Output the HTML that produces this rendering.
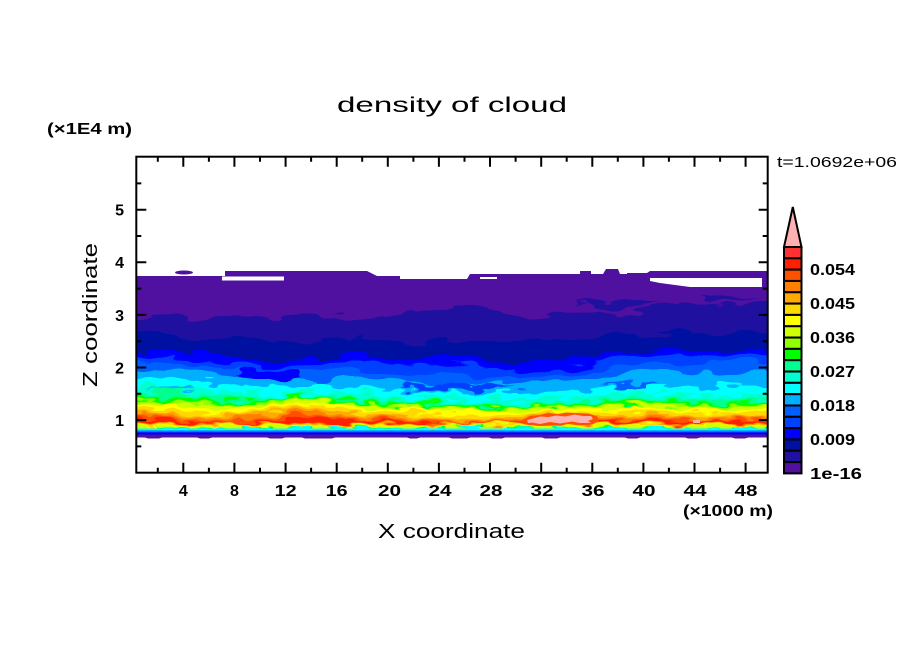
<!DOCTYPE html>
<html><head><meta charset="utf-8"><style>
html,body{margin:0;padding:0;background:#fff;}
svg{display:block;}
text{font-family:"Liberation Sans",sans-serif;fill:#000;}
.b{font-weight:bold;font-size:15.5px;}
.t{font-weight:bold;font-size:16px;}
</style></head><body>
<svg width="904" height="654" viewBox="0 0 904 654" xmlns="http://www.w3.org/2000/svg">
<defs>
<clipPath id="pc"><rect x="137" y="157.7" width="630" height="314"/></clipPath>
<clipPath id="ic"><rect x="120" y="250" width="670" height="184.5"/></clipPath>
<filter id="f1" filterUnits="userSpaceOnUse" x="110" y="240" width="690" height="230" color-interpolation-filters="sRGB">
<feTurbulence type="fractalNoise" baseFrequency="0.03 0.09" numOctaves="2" seed="3" result="n"/>
<feColorMatrix in="n" type="matrix" values="0 0 0 0 0.5  0 1 0 0 0  0 0 0 0 0  0 0 0 0 1" result="m"/>
<feDisplacementMap in="SourceGraphic" in2="m" scale="20" xChannelSelector="R" yChannelSelector="G"/>
</filter>
<filter id="f2" filterUnits="userSpaceOnUse" x="110" y="240" width="690" height="230" color-interpolation-filters="sRGB">
<feTurbulence type="fractalNoise" baseFrequency="0.045 0.14" numOctaves="2" seed="11" result="n"/>
<feColorMatrix in="n" type="matrix" values="0 0 0 0 0.5  0 1 0 0 0  0 0 0 0 0  0 0 0 0 1" result="m"/>
<feDisplacementMap in="SourceGraphic" in2="m" scale="21" xChannelSelector="R" yChannelSelector="G"/>
</filter>
<filter id="f3" filterUnits="userSpaceOnUse" x="110" y="240" width="690" height="230" color-interpolation-filters="sRGB">
<feTurbulence type="fractalNoise" baseFrequency="0.045 0.15" numOctaves="2" seed="27" result="n"/>
<feColorMatrix in="n" type="matrix" values="0 0 0 0 0.5  0 1 0 0 0  0 0 0 0 0  0 0 0 0 1" result="m"/>
<feDisplacementMap in="SourceGraphic" in2="m" scale="13" xChannelSelector="R" yChannelSelector="G"/>
</filter>
</defs>

<text x="337" y="112" font-size="21" textLength="230" lengthAdjust="spacingAndGlyphs">density of cloud</text>
<text x="47" y="134" class="b" font-size="15" textLength="85" lengthAdjust="spacingAndGlyphs">(×1E4 m)</text>
<text x="777" y="167" font-size="14.5" textLength="120" lengthAdjust="spacingAndGlyphs">t=1.0692e+06</text>

<g clip-path="url(#pc)">
<path fill="#5010a0" d="M130,276 H225 V271 H367 L377,276 H400 V279 H467 L470,274 H580 V271 H591 V274 H603 L606,269 H618 L620,274 H627 V273 H647 L650,271 H775 V437.5 H748 L745,438.5 H735 L732,437.5 H700 L697,438.5 H688 L685,437.5 H640 L637,438.5 H628 L625,437.5 H560 L557,438.5 H545 L542,437.5 H505 L502,438.5 H492 L489,437.5 H470 L467,438.5 H452 L449,437.5 H420 L417,438.5 H410 L407,437.5 H335 L332,438.5 H305 L302,437.5 H285 L282,438.5 H270 L267,437.5 H212 L209,438.5 H200 L197,437.5 H162 L159,438.5 H148 L145,437.5 H130 Z"/>
<rect x="222" y="276.5" width="62" height="4" fill="#fff"/>
<rect x="480" y="277" width="17" height="2" fill="#fff"/>
<polygon points="650,278 762,278 762,287 690,287 660,283 650,281" fill="#fff"/>
<ellipse cx="184" cy="272.5" rx="9" ry="2" fill="#5010a0"/>

<g clip-path="url(#ic)">
<g filter="url(#f1)">
<path fill="#2010a0" d="M575,303 L600,300 L640,301 L660,305 L640,309 L600,308 Z"/>
<path fill="#2010a0" d="M700,296 L730,294 L760,297 L740,300 L710,300 Z"/>
<path fill="#2010a0" d="M130,318 L168,317 L200,320 L232,320 L264,318 L296,316 L328,316 L360,317 L392,316 L424,310 L456,309 L488,311 L520,314 L552,316 L584,314 L616,312 L648,310 L680,306 L712,304 L744,305 L775,302 V440 H130 Z"/>
<path fill="#0010a0" d="M130,330 L168,334 L200,338 L232,336 L264,340 L296,344 L328,338 L360,335 L392,340 L424,344 L456,340 L488,338 L520,342 L552,340 L584,336 L616,335 L648,333 L680,332 L712,334 L744,333 L775,334 V440 H130 Z"/>
<path fill="#0000ff" d="M130,352 L168,352 L200,354 L232,358 L264,362 L296,360 L328,356 L360,354 L392,356 L424,358 L456,356 L488,360 L520,362 L552,360 L584,358 L616,354 L648,350 L680,349 L712,350 L744,348 L775,350 V440 H130 Z"/>
<path fill="#0040ff" d="M130,358 L168,357 L200,360 L232,364 L264,368 L296,366 L328,362 L360,362 L392,364 L424,366 L456,365 L488,368 L520,370 L552,368 L584,366 L616,360 L648,356 L680,355 L712,356 L744,355 L775,356 V440 H130 Z"/>
<path fill="#0060ff" d="M130,364 L168,362 L200,366 L232,370 L264,374 L296,372 L328,370 L360,370 L392,372 L424,374 L456,374 L488,376 L520,378 L552,376 L584,372 L616,366 L648,362 L680,362 L712,364 L744,362 L775,362 V440 H130 Z"/>
<path fill="#00b0ff" d="M130,370 L168,368 L200,372 L232,376 L264,380 L296,378 L328,378 L360,378 L392,380 L424,382 L456,383 L488,384 L520,386 L552,384 L584,382 L616,376 L648,372 L680,372 L712,374 L744,372 L775,372 V440 H130 Z"/>
<path fill="#0000ff" d="M236,373 L255,371 L280,371 L298,373 L300,377 L285,380 L260,380 L242,378 Z"/>
</g>
<g filter="url(#f2)">
<path fill="#00ffff" d="M130,378 L168,376 L200,380 L232,384 L264,388 L296,386 L328,386 L360,388 L392,390 L424,392 L456,393 L488,394 L520,394 L552,392 L584,390 L616,388 L648,385 L680,386 L712,388 L744,386 L775,386 V440 H130 Z"/>
<path fill="#00ffd0" d="M130,386 L168,384 L200,388 L232,392 L264,394 L296,392 L328,392 L360,394 L392,396 L424,398 L456,398 L488,400 L520,400 L552,398 L584,396 L616,394 L648,392 L680,393 L712,395 L744,393 L775,393 V429.5 H130 Z"/>
<path fill="#00ff90" d="M130,392 L168,390 L200,394 L232,398 L264,398 L296,394 L328,396 L360,398 L392,400 L424,402 L456,402 L488,404 L520,404 L552,402 L584,400 L616,398 L648,397 L680,398 L712,400 L744,398 L775,398 V428.5 H130 Z"/>
<path fill="#00ff00" d="M130,396 L168,395 L200,398 L232,402 L264,400 L296,394 L328,398 L360,400 L392,402 L424,404 L456,404 L488,406 L520,406 L552,404 L584,402 L616,402 L648,401 L680,402 L712,404 L744,402 L775,402 V428 H130 Z"/>
<path fill="#90ff00" d="M130,400 L168,399 L200,402 L232,405 L264,402 L296,396 L328,400 L360,403 L392,405 L424,406 L456,407 L488,408 L520,408 L552,406 L584,405 L616,405 L648,404 L680,405 L712,406 L744,405 L775,405 V427.5 H130 Z"/>
<path fill="#d0ff00" d="M130,403 L168,402 L200,405 L232,407 L264,404 L296,398 L328,402 L360,405 L392,407 L424,408 L456,409 L488,410 L520,410 L552,408 L584,407 L616,407 L648,406 L680,407 L712,408 L744,407 L775,407 V427 H130 Z"/>
<path fill="#0040ff" d="M400,386 L440,383 L480,383 L515,386 L500,390 L450,391 L410,390 Z"/>
<path fill="#0060ff" d="M600,384 L630,382 L660,384 L650,387 L615,387 Z"/>
<path fill="#00b0ff" d="M145,388 L175,386 L195,389 L175,391 Z"/>
</g>
<g filter="url(#f3)">
<path fill="#ffff00" d="M130,406 L168,405 L200,408 L232,409 L264,406 L296,401 L328,404 L360,407 L392,409 L424,410 L456,411 L488,412 L520,412 L552,410 L584,409 L616,409 L648,408 L680,409 L712,410 L744,409 L775,409 V426 H130 Z"/>
<path fill="#ffd800" d="M130,409 L168,409 L200,411 L232,412 L264,409 L296,404 L328,408 L360,410 L392,412 L424,413 L456,414 L488,415 L520,414 L552,413 L584,412 L616,412 L648,411 L680,412 L712,413 L744,412 L775,412 V425.5 H130 Z"/>
<path fill="#ffaa00" d="M130,412 L168,413 L200,414 L232,415 L264,412 L296,407 L328,411 L360,413 L392,415 L424,416 L456,418 L488,419 L520,417 L552,415 L584,415 L616,415 L648,414 L680,415 L712,416 L744,415 L775,415 V424.5 H130 Z"/>
<path fill="#ff8000" d="M130,415 L168,415 L200,417 L232,418 L264,415 L296,410 L328,414 L360,416 L392,417 L424,418 L456,421 L488,421 L520,419 L552,417 L584,417 L616,417 L648,416 L680,417 L712,418 L744,417 L775,417 V424 H130 Z"/>
<path fill="#ff5000" d="M130,417 L168,418 L200,420 L232,421 L264,418 L296,413 L328,417 L360,418 L392,419 L424,420 L456,423 L488,423 L520,421 L552,419 L584,419 L616,419 L648,418 L680,419 L712,420 L744,419 L775,419 V423.5 H130 Z"/>
<path fill="#ff2000" d="M130,419 L168,420 L200,422 L232,423 L264,421 L296,417 L328,419 L360,420 L392,420.5 L424,422 L456,423.5 L488,423.5 L520,422 L552,421 L584,421 L616,420.5 L648,420 L680,421 L712,421 L744,421 L775,421 V423 H130 Z"/>
</g>
</g>

<path fill="#ff5000" d="M520,421 L530,416 L540,415 L548,413 L558,414 L566,412.5 L576,413 L588,413.5 L597,416 L599,421 L592,424.5 L580,425.5 L568,424 L556,425.5 L540,426 L528,425 Z"/>
<path fill="#ffb0b0" d="M527,420 L535,418 L540,416.5 L548,417 L556,415.5 L565,416.5 L575,414.5 L583,416 L591,416 L593,419 L588,421 L591,423 L580,423 L572,421.5 L560,423.5 L550,422 L540,424 L532,422.5 L528,423 Z"/>
<rect x="693" y="420" width="7" height="3" fill="#ffb0b0"/>

<rect x="130" y="428.5" width="650" height="1.5" fill="#00ffff"/>
<rect x="130" y="430" width="650" height="1.5" fill="#00b0ff"/>
<rect x="130" y="431.5" width="650" height="1" fill="#0040ff"/>
<rect x="130" y="432.5" width="650" height="2" fill="#0000ff"/>
</g>

<rect x="136.3" y="156.7" width="631.4" height="316" fill="none" stroke="#000" stroke-width="2"/>

<g stroke="#000" stroke-width="2">
<path d="M183.3,472.7V462.7M234.4,472.7V462.7M285.6,472.7V462.7M336.7,472.7V462.7M387.8,472.7V462.7M438.9,472.7V462.7M490,472.7V462.7M541.2,472.7V462.7M592.3,472.7V462.7M643.4,472.7V462.7M694.5,472.7V462.7M745.6,472.7V462.7"/>
<path d="M183.3,156.7V166.7M234.4,156.7V166.7M285.6,156.7V166.7M336.7,156.7V166.7M387.8,156.7V166.7M438.9,156.7V166.7M490,156.7V166.7M541.2,156.7V166.7M592.3,156.7V166.7M643.4,156.7V166.7M694.5,156.7V166.7M745.6,156.7V166.7"/>
<path d="M157.8,472.7V467.7M208.9,472.7V467.7M260,472.7V467.7M311.1,472.7V467.7M362.2,472.7V467.7M413.4,472.7V467.7M464.5,472.7V467.7M515.6,472.7V467.7M566.7,472.7V467.7M617.8,472.7V467.7M668.9,472.7V467.7M720.1,472.7V467.7"/>
<path d="M157.8,156.7V161.7M208.9,156.7V161.7M260,156.7V161.7M311.1,156.7V161.7M362.2,156.7V161.7M413.4,156.7V161.7M464.5,156.7V161.7M515.6,156.7V161.7M566.7,156.7V161.7M617.8,156.7V161.7M668.9,156.7V161.7M720.1,156.7V161.7"/>
<path d="M136.3,420.1H146.3M136.3,367.5H146.3M136.3,314.9H146.3M136.3,262.3H146.3M136.3,209.7H146.3"/>
<path d="M767.7,420.1H758.7M767.7,367.5H758.7M767.7,314.9H758.7M767.7,262.3H758.7M767.7,209.7H758.7"/>
<path d="M136.3,446.4H141.3M136.3,393.8H141.3M136.3,341.2H141.3M136.3,288.6H141.3M136.3,236H141.3M136.3,183.4H141.3"/>
<path d="M767.7,446.4H762.7M767.7,393.8H762.7M767.7,341.2H762.7M767.7,288.6H762.7M767.7,236H762.7M767.7,183.4H762.7"/>
</g>

<g text-anchor="end">
<text x="124" y="426" class="t">1</text>
<text x="124" y="373.4" class="t">2</text>
<text x="124" y="320.8" class="t">3</text>
<text x="124" y="268.2" class="t">4</text>
<text x="124" y="215.6" class="t">5</text>
</g>

<g text-anchor="middle">
<text x="183.3" y="496" class="t">4</text>
<text x="234.4" y="496" class="t">8</text>
<text x="285.6" y="496" class="t" textLength="22" lengthAdjust="spacingAndGlyphs">12</text>
<text x="336.7" y="496" class="t" textLength="22" lengthAdjust="spacingAndGlyphs">16</text>
<text x="389.5" y="496" class="t" textLength="23" lengthAdjust="spacingAndGlyphs">20</text>
<text x="440" y="496" class="t" textLength="23" lengthAdjust="spacingAndGlyphs">24</text>
<text x="491" y="496" class="t" textLength="23" lengthAdjust="spacingAndGlyphs">28</text>
<text x="542" y="496" class="t" textLength="23" lengthAdjust="spacingAndGlyphs">32</text>
<text x="593" y="496" class="t" textLength="23" lengthAdjust="spacingAndGlyphs">36</text>
<text x="644" y="496" class="t" textLength="23" lengthAdjust="spacingAndGlyphs">40</text>
<text x="695" y="496" class="t" textLength="23" lengthAdjust="spacingAndGlyphs">44</text>
<text x="746" y="496" class="t" textLength="23" lengthAdjust="spacingAndGlyphs">48</text>
</g>
<text x="683" y="516" class="b" font-size="15" textLength="90" lengthAdjust="spacingAndGlyphs">(×1000 m)</text>

<text x="378" y="538" font-size="20" textLength="147" lengthAdjust="spacingAndGlyphs">X coordinate</text>
<text transform="translate(97,387) rotate(-90)" font-size="20" textLength="144" lengthAdjust="spacingAndGlyphs">Z coordinate</text>

<polygon points="784,247 792.8,207 801.5,247" fill="#ffb0b0" stroke="#000" stroke-width="2" stroke-linejoin="miter"/>
<g stroke="#000" stroke-width="2">
<rect x="784" y="247" width="17.5" height="11.32" fill="#ff3030"/>
<rect x="784" y="258.32" width="17.5" height="11.32" fill="#ff2000"/>
<rect x="784" y="269.64" width="17.5" height="11.32" fill="#ff5000"/>
<rect x="784" y="280.96" width="17.5" height="11.32" fill="#ff8000"/>
<rect x="784" y="292.28" width="17.5" height="11.32" fill="#ffaa00"/>
<rect x="784" y="303.6" width="17.5" height="11.32" fill="#ffd800"/>
<rect x="784" y="314.92" width="17.5" height="11.32" fill="#ffff00"/>
<rect x="784" y="326.24" width="17.5" height="11.32" fill="#d0ff00"/>
<rect x="784" y="337.56" width="17.5" height="11.32" fill="#90ff00"/>
<rect x="784" y="348.88" width="17.5" height="11.32" fill="#00ff00"/>
<rect x="784" y="360.2" width="17.5" height="11.32" fill="#00ff90"/>
<rect x="784" y="371.52" width="17.5" height="11.32" fill="#00ffd0"/>
<rect x="784" y="382.84" width="17.5" height="11.32" fill="#00ffff"/>
<rect x="784" y="394.16" width="17.5" height="11.32" fill="#00b0ff"/>
<rect x="784" y="405.48" width="17.5" height="11.32" fill="#0060ff"/>
<rect x="784" y="416.8" width="17.5" height="11.32" fill="#0040ff"/>
<rect x="784" y="428.12" width="17.5" height="11.32" fill="#0000ff"/>
<rect x="784" y="439.44" width="17.5" height="11.32" fill="#0010a0"/>
<rect x="784" y="450.76" width="17.5" height="11.32" fill="#2010a0"/>
<rect x="784" y="462.08" width="17.5" height="11.32" fill="#5010a0"/>
</g>
<text x="810" y="275" class="b" textLength="45" lengthAdjust="spacingAndGlyphs">0.054</text>
<text x="810" y="309" class="b" textLength="45" lengthAdjust="spacingAndGlyphs">0.045</text>
<text x="810" y="343" class="b" textLength="45" lengthAdjust="spacingAndGlyphs">0.036</text>
<text x="810" y="377" class="b" textLength="45" lengthAdjust="spacingAndGlyphs">0.027</text>
<text x="810" y="411" class="b" textLength="45" lengthAdjust="spacingAndGlyphs">0.018</text>
<text x="810" y="445" class="b" textLength="45" lengthAdjust="spacingAndGlyphs">0.009</text>
<text x="810" y="479" class="b" textLength="52" lengthAdjust="spacingAndGlyphs">1e-16</text>
</svg>
</body></html>
